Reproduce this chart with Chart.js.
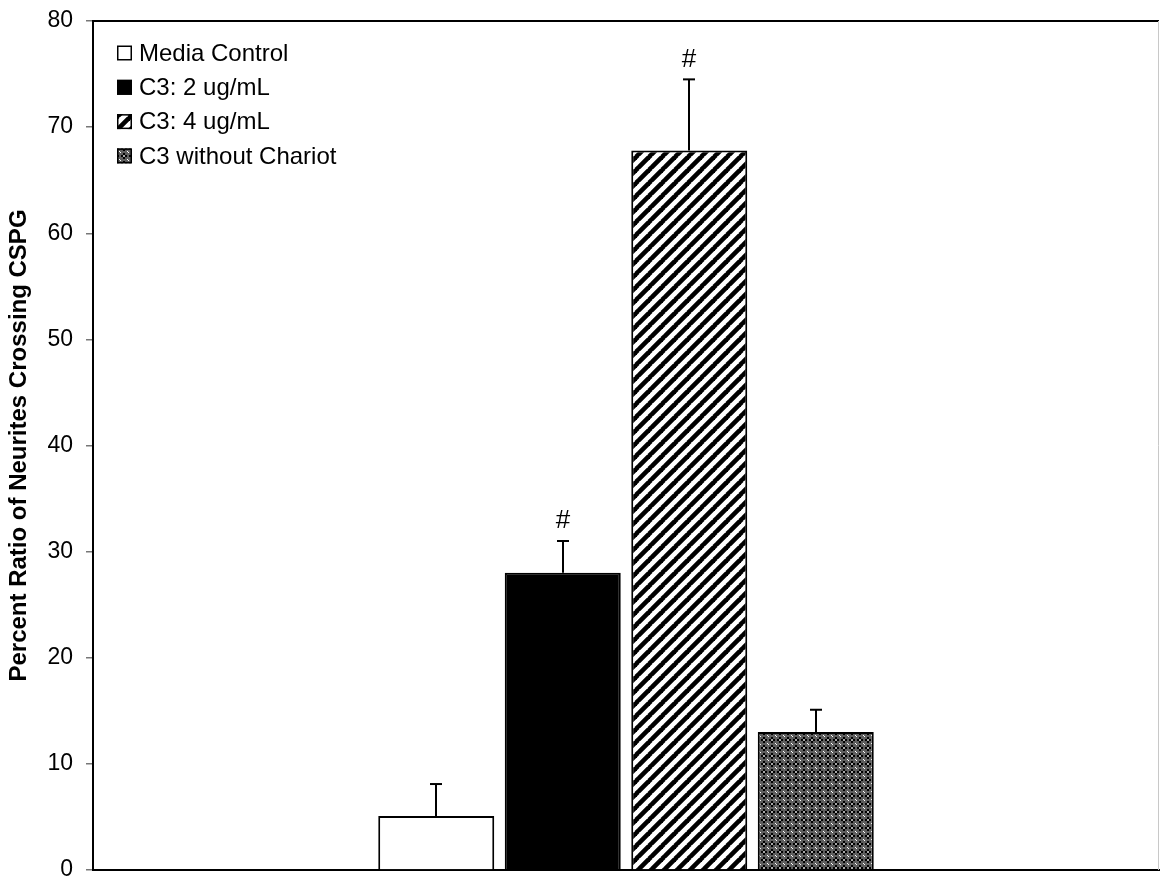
<!DOCTYPE html>
<html>
<head>
<meta charset="utf-8">
<script src="https://cdn.jsdelivr.net/npm/chart.js@4.4.1/dist/chart.umd.min.js"></script>
<style>
html,body{margin:0;padding:0;background:#fff;}
#wrap{width:1160px;height:879px;}
</style>
</head>
<body>
<div id="wrap"><canvas id="c" width="1160" height="879"></canvas></div>
<script>
// ---- data ----
const categories = [''];
const seriesLabels = ['Media Control', 'C3: 2 ug/mL', 'C3: 4 ug/mL', 'C3 without Chariot'];
const seriesValues = [5.1, 28.0, 67.8, 13.0];
const errorTops = [8.1, 31.0, 74.5, 15.1];
const markers = ['', '#', '#', ''];
const yTicks = [0, 10, 20, 30, 40, 50, 60, 70, 80];
const yTitle = 'Percent Ratio of Neurites Crossing CSPG';

const FONT = '"Liberation Sans", Arial, sans-serif';

function stripePattern() {
  const s = 13;
  const c = document.createElement('canvas');
  c.width = s; c.height = s;
  const g = c.getContext('2d');
  g.fillStyle = '#fff'; g.fillRect(0, 0, s, s);
  g.strokeStyle = '#000'; g.lineWidth = 4.6;
  for (const o of [-s, 0, s]) {
    g.beginPath(); g.moveTo(o - 1, s + 1); g.lineTo(o + s + 1, -1); g.stroke();
  }
  return g.createPattern(c, 'repeat');
}
function checkPattern() {
  const c = document.createElement('canvas');
  c.width = 8; c.height = 8;
  const g = c.getContext('2d');
  g.fillStyle = '#5e5e5e'; g.fillRect(0, 0, 8, 8);
  g.fillStyle = '#000';
  g.fillRect(3, 1, 2, 6); g.fillRect(1, 3, 6, 2);
  g.fillStyle = '#fff';
  g.fillRect(0, 0, 1, 1); g.fillRect(7, 7, 1, 1);
  g.fillStyle = '#aaa';
  g.fillRect(3, 3, 2, 2);
  return g.createPattern(c, 'repeat');
}
const fills = ['#ffffff', '#000000', stripePattern(), checkPattern()];

const datasets = seriesLabels.map((lab, i) => ({
  label: lab,
  data: [seriesValues[i]],
  backgroundColor: fills[i],
  borderColor: '#000',
  borderWidth: 2,
  borderSkipped: 'bottom',
  categoryPercentage: 0.4747,
  barPercentage: 0.917
}));

const extras = {
  id: 'extras',
  afterDatasetsDraw(chart) {
    const ctx = chart.ctx;
    const y = chart.scales.y;
    const area = chart.chartArea;
    ctx.save();
    // frame (top + right)
    ctx.strokeStyle = '#000'; ctx.lineWidth = 2;
    ctx.beginPath(); ctx.moveTo(area.left, area.top); ctx.lineTo(area.right, area.top); ctx.stroke();
    ctx.strokeStyle = '#c8c8c8'; ctx.lineWidth = 1;
    ctx.beginPath(); ctx.moveTo(area.right - 0.5, area.top); ctx.lineTo(area.right - 0.5, area.bottom); ctx.stroke();
    // error bars + markers
    chart.data.datasets.forEach((ds, i) => {
      const el = chart.getDatasetMeta(i).data[0];
      const x = Math.round(el.x);
      const yTop = y.getPixelForValue(errorTops[i]);
      const yBar = y.getPixelForValue(ds.data[0]);
      ctx.strokeStyle = '#000'; ctx.lineWidth = 2;
      ctx.beginPath(); ctx.moveTo(x, yBar); ctx.lineTo(x, yTop); ctx.stroke();
      ctx.beginPath(); ctx.moveTo(x - 6, yTop); ctx.lineTo(x + 6, yTop); ctx.stroke();
      if (markers[i]) {
        ctx.fillStyle = '#000';
        ctx.font = '26px ' + FONT;
        ctx.textAlign = 'center'; ctx.textBaseline = 'middle';
        ctx.fillText(markers[i], x, yTop - 20);
      }
    });
    // legend
    ctx.font = '24px ' + FONT;
    ctx.textAlign = 'left'; ctx.textBaseline = 'middle';
    chart.data.datasets.forEach((ds, i) => {
      const cy = 53 + i * 34.3;
      ctx.fillStyle = ds.backgroundColor;
      ctx.fillRect(117, cy - 7.5, 15, 15);
      ctx.strokeStyle = '#000'; ctx.lineWidth = 1.5;
      ctx.strokeRect(117.75, cy - 6.75, 13.5, 13.5);
      ctx.fillStyle = '#000';
      ctx.fillText(ds.label, 139, cy + 1);
    });
    ctx.restore();
  }
};

new Chart(document.getElementById('c'), {
  type: 'bar',
  data: { labels: categories, datasets },
  options: {
    responsive: false,
    animation: false,
    devicePixelRatio: 1,
    layout: { padding: { top: 21, right: 1, bottom: 9, left: 0 } },
    plugins: { legend: { display: false }, tooltip: { enabled: false } },
    scales: {
      x: {
        grid: { display: false },
        ticks: { display: false },
        border: { display: true, color: '#000', width: 2 },
        afterFit(s) { s.height = 0; s.paddingLeft = 0; s.paddingRight = 0; }
      },
      y: {
        min: 0, max: 80,
        afterBuildTicks(s) { s.ticks = yTicks.map(v => ({ value: v })); },
        ticks: { color: '#000', font: { family: FONT, size: 23 }, padding: 13 },
        grid: { drawOnChartArea: false, drawTicks: true, tickLength: 7, color: '#777', lineWidth: 1.5 },
        border: { display: true, color: '#000', width: 2 },
        title: { display: true, text: yTitle, color: '#000', font: { family: FONT, size: 24, weight: 'bold' }, padding: { top: 5, bottom: 0 } },
        afterFit(s) { s.width = 93; s.paddingTop = 0; s.paddingBottom = 0; }
      }
    }
  },
  plugins: [extras]
});
</script>
</body>
</html>
